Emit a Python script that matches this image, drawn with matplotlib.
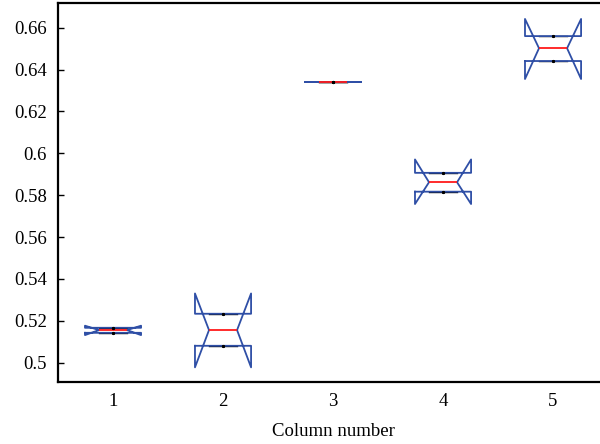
import matplotlib
matplotlib.use("Agg")
import matplotlib.pyplot as plt

# Notched box stats (one entry per column)
columns = [1, 2, 3, 4, 5]
medians = [0.5156, 0.5156, 0.6343, 0.5862, 0.6502]
q1s = [0.5143, 0.5081, 0.6343, 0.5817, 0.6441]
q3s = [0.5167, 0.5234, 0.6343, 0.5907, 0.6560]
ci_lo = [0.5132, 0.4978, 0.6343, 0.5758, 0.6355]
ci_hi = [0.5177, 0.5331, 0.6343, 0.5971, 0.6642]
yticks = [0.5, 0.52, 0.54, 0.56, 0.58, 0.6, 0.62, 0.64, 0.66]
ytick_labels = ["0.5", "0.52", "0.54", "0.56", "0.58", "0.6", "0.62", "0.64", "0.66"]

plt.rcParams["font.family"] = ["Liberation Serif", "DejaVu Serif"]

stats = []
for i in range(len(columns)):
    stats.append({
        "med": medians[i], "q1": q1s[i], "q3": q3s[i],
        "cilo": ci_lo[i], "cihi": ci_hi[i],
        "whislo": q1s[i], "whishi": q3s[i], "fliers": [],
    })

fig = plt.figure(figsize=(6, 4.44), dpi=100)
# right edge of the axes sits just past the picture, like the original crop
ax = fig.add_axes([0.0967, 0.1396, 0.9167, 0.8536])

blue = "#2f4fa6"
ax.bxp(stats, positions=columns, widths=0.51, shownotches=True, showfliers=False,
       capwidths=0.25,
       boxprops=dict(color=blue, linewidth=1.3, zorder=3),
       medianprops=dict(color="#ff1a1a", linewidth=1.3, zorder=4),
       whiskerprops=dict(color="black", linewidth=1, marker=".", markersize=2.5, zorder=5),
       capprops=dict(color="black", linewidth=1, zorder=2))

ax.set_xlim(0.5, 5.5)
ax.set_ylim(0.4908, 0.6718)
ax.set_yticks(yticks)
ax.set_yticklabels(ytick_labels)
ax.set_xticks(columns)
ax.set_xticklabels([str(c) for c in columns])
ax.tick_params(axis="y", direction="in", length=4, width=1, labelsize=13.5, pad=8)
ax.tick_params(axis="x", length=0, labelsize=13.5, pad=8)
ax.set_xlabel("Column number", fontsize=13.5, labelpad=9)

for side in ["left", "bottom", "top", "right"]:
    ax.spines[side].set_linewidth(1.6)

fig.savefig("out.png", dpi=100)
